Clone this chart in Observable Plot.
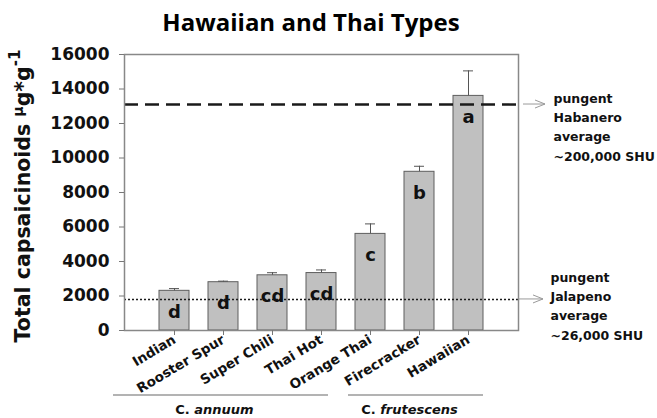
<!DOCTYPE html>
<html><head><meta charset="utf-8">
<script src="https://cdn.jsdelivr.net/npm/d3@7"></script>
<script src="https://cdn.jsdelivr.net/npm/@observablehq/plot@0.6"></script>
<style>
body{margin:0;background:#fff;}
#title{width:622px;height:42px;box-sizing:border-box;padding-top:7px;text-align:center;font:700 24px/30px "Open Sans",sans-serif;color:#000;white-space:nowrap;overflow:visible;}
#chart svg{display:block;}
</style></head><body>
<div id="title">Hawaiian and Thai Types</div>
<div id="chart"></div>
<script>
// ---- data ----
const cultivars = ["Indian", "Rooster Spur", "Super Chili", "Thai Hot", "Orange Thai", "Firecracker", "Hawaiian"];
const means     = [2300, 2800, 3200, 3330, 5600, 9200, 13600];
const errors    = [130, 60, 150, 180, 580, 320, 1450];
const letters   = ["d", "d", "cd", "cd", "c", "b", "a"];
const yTicks    = [0, 2000, 4000, 6000, 8000, 10000, 12000, 14000, 16000];
const habaneroValue = 13100;
const habaneroText  = "pungent\nHabanero\naverage\n~200,000 SHU";
const jalapenoValue = 1800;
const jalapenoText  = "pungent\nJalapeno\naverage\n~26,000 SHU";
const speciesGenus  = ["C. ", "C. "];
const speciesName   = ["annuum", "frutescens"];
const speciesFirst  = ["Indian", "Orange Thai"];
const speciesLast   = ["Thai Hot", "Hawaiian"];

const data = cultivars.map((c, i) => ({cultivar: c, mean: means[i], err: errors[i], letter: letters[i]}));

const FONT = "'DejaVu Sans', 'Liberation Sans', Arial, sans-serif";

const chart = Plot.plot({
  width: 657, height: 376,
  marginTop: 12, marginBottom: 88, marginLeft: 124, marginRight: 139,
  style: {fontFamily: FONT, fontWeight: "bold", color: "#111", background: "#fff", overflow: "visible"},
  x: {domain: cultivars, paddingInner: 0.39, paddingOuter: 0.69, label: null},
  y: {domain: [0, 16000], label: null},
  marks: [
    Plot.barY(data, {x: "cultivar", y: "mean", fill: "#c0c0c0", stroke: "#5e5e5e", strokeWidth: 1}),
    Plot.ruleX(data, {x: "cultivar", y1: "mean", y2: d => d.mean + d.err, stroke: "#555", strokeWidth: 1}),
    Plot.tickY(data, {x: "cultivar", y: d => d.mean + d.err, stroke: "#555", strokeWidth: 1, insetLeft: 10, insetRight: 10}),
    Plot.ruleY([habaneroValue], {stroke: "#1a1a1a", strokeWidth: 2.5, strokeDasharray: "14,7"}),
    Plot.ruleY([jalapenoValue], {stroke: "#1a1a1a", strokeWidth: 1.5, strokeDasharray: "2,2"}),
    Plot.text(data, {x: "cultivar", y: "mean", text: "letter", dy: 21, fontSize: 18, fill: "#111", fontWeight: "bold"}),
    Plot.frame({stroke: "#888", strokeWidth: 1.5}),
    Plot.axisY({ticks: yTicks, tickFormat: d => String(d), tickSize: 5, tickPadding: 10, fontSize: 17, stroke: "#777", fill: "#111"}),
    Plot.axisX({tickRotate: -31, tickSize: 5, tickPadding: 3, fontSize: 13.5, stroke: "#777", fill: "#111"}),
    Plot.text([habaneroValue], {y: d => d, text: () => habaneroText, frameAnchor: "right", dx: 35, dy: 21,
      textAnchor: "start", lineAnchor: "middle", lineHeight: 1.55, fontSize: 12.5, fill: "#111", fontWeight: "bold"}),
    Plot.text([jalapenoValue], {y: d => d, text: () => jalapenoText, frameAnchor: "right", dx: 32, dy: 5,
      textAnchor: "start", lineAnchor: "middle", lineHeight: 1.55, fontSize: 12.5, fill: "#111", fontWeight: "bold"})
  ]
});
document.getElementById("chart").appendChild(chart);

// ---- extra annotation drawn through the chart's scales ----
const xs = chart.scale("x"), ys = chart.scale("y");
const svg = d3.select(chart);
const frameRight = 657 - 139;
const bw = xs.bandwidth;

// arrows to the right of the frame
const arrows = [{v: habaneroValue, a: 5, b: 27}, {v: jalapenoValue, a: 0, b: 25}];
for (const ar of arrows) {
  const y = ys.apply(ar.v), x0 = frameRight + ar.a, x1 = frameRight + ar.b;
  svg.append("path")
    .attr("d", `M${x0},${y}H${x1}M${x1 - 10},${y - 4}L${x1},${y}L${x1 - 10},${y + 4}`)
    .attr("fill", "none").attr("stroke", "#9a9a9a").attr("stroke-width", 1);
}

// y axis title with superscripts
const yt = svg.append("text")
  .attr("transform", `translate(23,${(12 + 288) / 2 + 4}) rotate(-90)`)
  .attr("text-anchor", "middle").attr("dominant-baseline", "central")
  .attr("font-family", FONT).attr("font-weight", "bold").attr("font-size", 20.5).attr("fill", "#111");
yt.append("tspan").text("Total capsaicinoids ");
yt.append("tspan").attr("font-size", 14).attr("dy", -5).text("\u03bc");
yt.append("tspan").attr("dy", 5).text("g*g");
yt.append("tspan").attr("font-size", 15).attr("dy", -8).text("-1");

// species group lines and labels
const groupPad = [[-46, -8], [-7, 0]];
speciesName.forEach((name, i) => {
  const xa = xs.apply(speciesFirst[i]) + groupPad[i][0];
  const xb = xs.apply(speciesLast[i]) + bw + groupPad[i][1];
  svg.append("line").attr("x1", xa).attr("x2", xb).attr("y1", 353).attr("y2", 353)
    .attr("stroke", "#9a9a9a").attr("stroke-width", 1.5);
  const t = svg.append("text").attr("x", (xa + xb) / 2 - 6).attr("y", 372)
    .attr("text-anchor", "middle").attr("font-family", FONT).attr("font-weight", "bold")
    .attr("font-size", 13).attr("fill", "#111");
  t.append("tspan").text(speciesGenus[i]);
  t.append("tspan").attr("font-style", "italic").text(name);
});
</script>
</body></html>
